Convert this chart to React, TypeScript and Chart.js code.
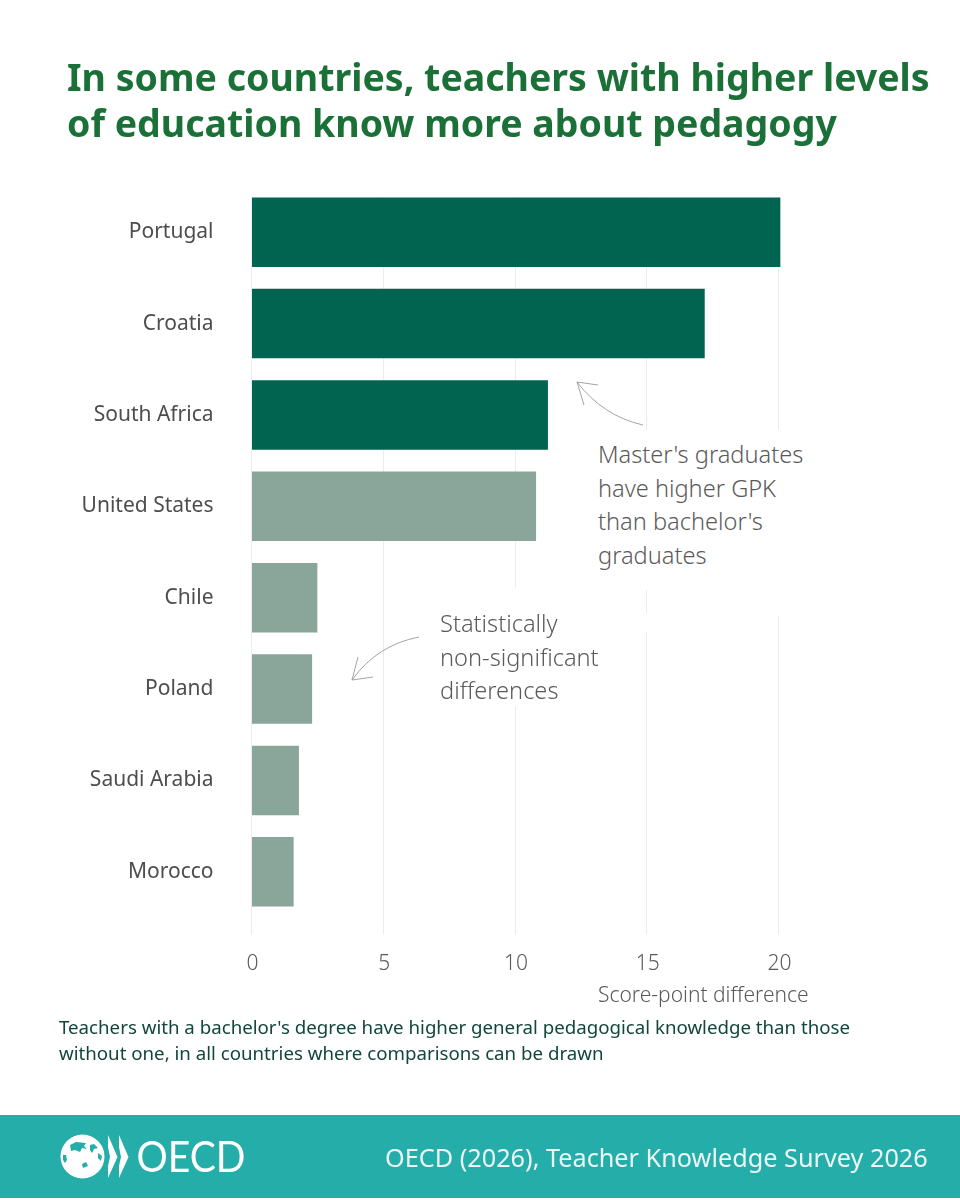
import React, { useEffect, useRef } from "react";
import { Chart, registerables } from "chart.js";

Chart.register(...registerables);

const countries = [
  "Portugal",
  "Croatia",
  "South Africa",
  "United States",
  "Chile",
  "Poland",
  "Saudi Arabia",
  "Morocco",
];
const scoreDifference = [20.07, 17.2, 11.25, 10.8, 2.5, 2.3, 1.8, 1.6];
const significant = [true, true, true, false, false, false, false, false];

const DARK = "#006450";
const LIGHT = "#8aa69b";
const FONT = '"Noto Sans", sans-serif';

const textStyle = (
  left: number,
  top: number,
  size: number,
  lineHeight: number,
  color: string,
  weight = 400
): React.CSSProperties => ({
  position: "absolute",
  left,
  top,
  fontFamily: FONT,
  fontSize: size,
  lineHeight: `${lineHeight}px`,
  color,
  fontWeight: weight,
  whiteSpace: "pre",
  margin: 0,
});

const App = () => {
  const chartRef = useRef<HTMLCanvasElement>(null);
  const chartInstance = useRef<any>(null);

  useEffect(() => {
    if (!chartRef.current) return;
    const ctx: any = chartRef.current.getContext("2d");

    chartInstance.current = new Chart(ctx, {
      type: "bar",
      data: {
        labels: countries,
        datasets: [
          {
            label: "Score-point difference",
            data: scoreDifference,
            backgroundColor: significant.map((s) => (s ? DARK : LIGHT)),
            barPercentage: 0.76,
            categoryPercentage: 1,
            clip: false,
          },
        ],
      },
      options: {
        indexAxis: "y",
        animation: false,
        responsive: false,
        devicePixelRatio: 1,
        layout: {
          padding: { left: 0, top: 186.5, right: 181.5, bottom: 222.5 },
        },
        plugins: {
          legend: { display: false },
          tooltip: { enabled: false },
        },
        scales: {
          x: {
            min: 0,
            max: 20,
            border: { display: false },
            grid: { color: "#ececec", lineWidth: 1, tickLength: 17 },
            ticks: {
              stepSize: 5,
              maxRotation: 0,
              padding: 17,
              labelOffset: 1,
              color: "#5a5a5a",
              font: { family: FONT, size: 21, weight: 300 },
            },
            afterFit: (scale: any) => {
              scale.height = 60;
            },
          },
          y: {
            border: { display: false },
            grid: { display: false, drawTicks: false },
            ticks: {
              padding: 38,
              color: "#4d4d4d",
              font: { family: FONT, size: 21 },
            },
            afterFit: (scale: any) => {
              scale.width = 251.5;
            },
          },
        },
      },
    });

    return () => {
      if (chartInstance.current) {
        chartInstance.current.destroy();
      }
    };
  }, []);

  return (
    <div
      style={{
        position: "absolute",
        left: 0,
        top: 0,
        width: 960,
        height: 1200,
        background: "#fff",
        overflow: "hidden",
      }}
    >
      <canvas
        ref={chartRef}
        width={960}
        height={1200}
        style={{ position: "absolute", left: 0, top: 0, width: 960, height: 1200 }}
      />

      {/* hides the grid above the first bar */}
      <div style={{ position: "absolute", left: 240, top: 180, width: 560, height: 17, background: "#fff" }} />

      <h1 style={textStyle(67, 54, 37.5, 46, "#1a7037", 700)}>
        {"In some countries, teachers with higher levels\nof education know more about pedagogy"}
      </h1>

      {/* annotation boxes interrupt the grid */}
      <div style={{ position: "absolute", left: 590, top: 430, width: 222, height: 160, background: "#fff" }} />
      <div style={{ position: "absolute", left: 432, top: 588, width: 174, height: 118, background: "#fff" }} />
      <div style={{ position: "absolute", left: 770, top: 590, width: 20, height: 26, background: "#fff" }} />
      <div style={{ position: "absolute", left: 640, top: 613, width: 12, height: 19, background: "#fff" }} />

      <div style={textStyle(598, 438, 23.6, 33.5, "#5a5a5a", 300)}>
        {"Master's graduates\nhave higher GPK\nthan bachelor's\ngraduates"}
      </div>
      <div style={textStyle(440, 607, 23.6, 33.5, "#5a5a5a", 300)}>
        {"Statistically\nnon-significant\ndifferences"}
      </div>

      <svg
        width={960}
        height={1200}
        style={{ position: "absolute", left: 0, top: 0, pointerEvents: "none" }}
        fill="none"
        stroke="#a3a3a3"
        strokeWidth={1}
      >
        <path d="M643 425 Q603 416 577 382 M598 385 L577 382 L584 405" />
        <path d="M419 637 Q377 645 352 680 M373 677 L352 680 L358 657" />
      </svg>

      <div style={textStyle(598, 980, 21, 28, "#5a5a5a", 300)}>Score-point difference</div>

      <div style={textStyle(59, 1014, 18.7, 25.5, "#12463a")}>
        {"Teachers with a bachelor's degree have higher general pedagogical knowledge than those\nwithout one, in all countries where comparisons can be drawn"}
      </div>

      <div style={{ position: "absolute", left: 0, top: 1115, width: 960, height: 83, background: "#25adaa" }} />
      <svg width={260} height={83} style={{ position: "absolute", left: 0, top: 1115 }}>
        <circle cx={82.5} cy={41.5} r={22} fill="#fff" />
        <g fill="#25adaa">
          <path d="M70 30 L76 27 L86 28 L84 31 L87 34 L82 33 L80 37 L75 35 L71 36 Z" />
          <path d="M63 40 L66 40 L67 45 L65 48 L63 45 Z" />
          <path d="M82 49 L86 47 L88 51 L83 53 Z" />
          <path d="M90 30 L94 29 L98 33 L94 34 L92 38 L90 35 Z" />
          <path d="M98 38 L102 41 L101 46 L98 43 Z" />
        </g>
        <g fill="#fff">
          <path d="M108 20 L117.5 42 L108 63 L108 51 L110 42 L108 32 Z" />
          <path d="M119 20 L128.5 42 L119 63 L119 51 L121 42 L119 32 Z" />
        </g>
        <text
          x={136.5}
          y={57}
          fill="#fff"
          fontFamily="Lato, sans-serif"
          fontWeight={400}
          fontSize={42}
          textLength={109}
          lengthAdjust="spacingAndGlyphs"
        >
          OECD
        </text>
      </svg>
      <div style={textStyle(385, 1139, 25.25, 36, "#eaf7f6", 400)}>OECD (2026), Teacher Knowledge Survey 2026</div>
    </div>
  );
};

export default App;
